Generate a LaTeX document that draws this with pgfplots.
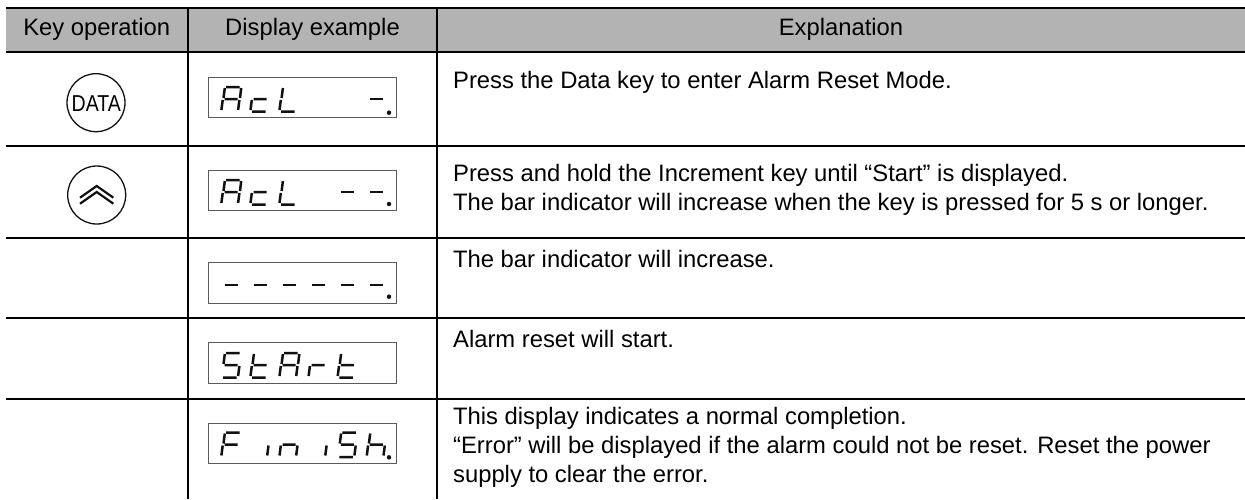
\documentclass[border=0pt]{standalone}
\usepackage{pgfplots}
\pgfplotsset{compat=1.18}
\usepackage{fontspec}
\setmainfont{Liberation Sans}
\definecolor{hdr}{HTML}{B3B3B3}
\definecolor{boxc}{HTML}{5A5A5A}
\definecolor{ink}{HTML}{111111}
\newcommand\T{\fontsize{23.8}{29}\selectfont}
\pgfplotsset{
  seg/.style={no markers,ink,line width=2.5pt,line cap=butt,sharp plot},
  rule/.style={no markers,black,line width=2pt,sharp plot,forget plot},
  dbox/.style={no markers,boxc,line width=1pt,sharp plot}
}
\newcommand\Gl[3]{\addplot[seg,xshift=#1pt,yshift=-#2pt] coordinates {#3};}
\newcommand\GA[2]{\Gl{#1}{#2}{(-5,-12)(8.5,-12)(nan,nan)(10.2,-11)(9,-1)(nan,nan)(8.4,1)(7.1,11)(nan,nan)(-8.3,1)(-9.6,11)(nan,nan)(-6.2,-11)(-7.5,-1)(nan,nan)(-6.5,0)(6.5,0)}}
\newcommand\Gc[2]{\Gl{#1}{#2}{(-6.5,0)(6.5,0)(nan,nan)(-8.3,1)(-9.6,11)(nan,nan)(-8,12.5)(5.5,12.5)}}
\newcommand\GL[2]{\Gl{#1}{#2}{(-6.2,-11)(-7.5,-1)(nan,nan)(-8.3,1)(-9.6,11)(nan,nan)(-8,12.5)(5.5,12.5)}}
\newcommand\GD[2]{\Gl{#1}{#2}{(-6.5,0)(6.5,0)}}
\newcommand\GS[2]{\Gl{#1}{#2}{(-5,-12)(8.5,-12)(nan,nan)(-6.2,-11)(-7.5,-1)(nan,nan)(-6.5,0)(6.5,0)(nan,nan)(8.4,1)(7.1,11)(nan,nan)(-8,12.5)(5.5,12.5)}}
\newcommand\Gt[2]{\Gl{#1}{#2}{(-6.2,-11)(-7.5,-1)(nan,nan)(-8.3,1)(-9.6,11)(nan,nan)(-6.5,0)(6.5,0)(nan,nan)(-8,12.5)(5.5,12.5)}}
\newcommand\Gr[2]{\Gl{#1}{#2}{(-8.3,1)(-9.6,11)(nan,nan)(-6.5,0)(6.5,0)}}
\newcommand\GF[2]{\Gl{#1}{#2}{(-5,-12)(8.5,-12)(nan,nan)(-6.2,-11)(-7.5,-1)(nan,nan)(-8.3,1)(-9.6,11)(nan,nan)(-6.5,0)(6.5,0)}}
\newcommand\Gi[2]{\Gl{#1}{#2}{(8.4,1)(7.1,11)}}
\newcommand\Gn[2]{\Gl{#1}{#2}{(-8.3,1)(-9.6,11)(nan,nan)(-6.5,0)(6.5,0)(nan,nan)(8.4,1)(7.1,11)}}
\newcommand\Gh[2]{\Gl{#1}{#2}{(-6.2,-11)(-7.5,-1)(nan,nan)(-8.3,1)(-9.6,11)(nan,nan)(-6.5,0)(6.5,0)(nan,nan)(8.4,1)(7.1,11)}}
\begin{document}
\begin{tikzpicture}
\useasboundingbox (0,0) rectangle (1245pt,499pt);
\begin{axis}[
  at={(0,0)},anchor=south west,
  width=1245pt,height=499pt,scale only axis,
  xmin=0,xmax=1245,ymin=0,ymax=499,y dir=reverse,
  axis lines=none,clip=false,unbounded coords=jump,
  every node/.append style={inner sep=0pt,text=ink}
]
% header band
\addplot[fill=hdr,draw=none,no markers,forget plot] coordinates {(6,8)(1245,8)(1245,52)(6,52)} -- cycle;
% rules
\addplot[rule] coordinates {(6,8)(1245,8)};
\addplot[rule] coordinates {(6,52)(1245,52)};
\addplot[rule] coordinates {(6,145.7)(1245,145.7)};
\addplot[rule] coordinates {(6,237.7)(1245,237.7)};
\addplot[rule] coordinates {(6,317.7)(1245,317.7)};
\addplot[rule] coordinates {(6,399)(1245,399)};
\addplot[rule] coordinates {(188,8)(188,499)};
\addplot[rule] coordinates {(436.6,8)(436.6,499)};
% display boxes
\addplot[dbox] coordinates {(208.3,77.3)(396.9,77.3)(396.9,117.6)(208.3,117.6)(208.3,77.3)};
\addplot[dbox] coordinates {(208.3,170)(396.9,170)(396.9,210.3)(208.3,210.3)(208.3,170)};
\addplot[dbox] coordinates {(208.3,262.7)(396.9,262.7)(396.9,303)(208.3,303)(208.3,262.7)};
\addplot[dbox] coordinates {(208.3,342.7)(396.9,342.7)(396.9,383)(208.3,383)(208.3,342.7)};
\addplot[dbox] coordinates {(208.3,423)(396.9,423)(396.9,463.6)(208.3,463.6)(208.3,423)};
% digits
\GA{231}{99}\Gc{260.1}{99}\GL{289.1}{99}\GD{376.4}{99}
\GA{231}{192}\Gc{260.1}{192}\GL{289.1}{192}\GD{347.3}{192}\GD{376.4}{192}
\GD{231}{285}\GD{260.1}{285}\GD{289.1}{285}\GD{318.2}{285}\GD{347.3}{285}\GD{376.4}{285}
\GS{231}{365}\Gt{260.1}{365}\GA{289.1}{365}\Gr{318.2}{365}\Gt{347.3}{365}
\GF{231}{444.5}\Gi{260.1}{444.5}\Gn{289.1}{444.5}\Gi{318.2}{444.5}\GS{347.3}{444.5}\Gh{376.4}{444.5}
% decimal points
\addplot[only marks,mark=*,mark size=2pt,ink] coordinates {(389,112.7)(389,204)(389,296.7)(389,457.3)};
% keys
\addplot[only marks,mark=o,mark size=29pt,mark options={ink,line width=1.3pt,fill=none}] coordinates {(96,102.7)(96.7,195)};
\addplot[no markers,ink,line width=2.2pt,sharp plot,line join=miter] coordinates {(80,197.7)(96.7,186)(113.4,197.7)(nan,nan)(80,203.7)(96.7,192)(113.4,203.7)};
% text
\node[anchor=base] at (axis cs:96.7,35) {\T Key operation};
\node[anchor=base] at (axis cs:312.5,35) {\T Display example};
\node[anchor=base] at (axis cs:841,35) {\T Explanation};
\node[anchor=base] at (axis cs:96.3,111.7) {\scalebox{0.85}[1]{\fontsize{23}{24}\selectfont DATA}};
\node[anchor=base west] at (axis cs:449.6,88) {\T Press the Data key to enter Alarm Reset Mode.};
\node[anchor=base west] at (axis cs:449.6,181.7) {\T Press and hold the Increment key until “Start” is displayed.};
\node[anchor=base west] at (axis cs:449.6,210.7) {\T The bar indicator will increase when the key is pressed for 5 s or longer.};
\node[anchor=base west] at (axis cs:449.6,267) {\T The bar indicator will increase.};
\node[anchor=base west] at (axis cs:449.6,347) {\T Alarm reset will start.};
\node[anchor=base west] at (axis cs:449.6,424) {\T This display indicates a normal completion.};
\node[anchor=base west] at (axis cs:449.6,453) {\T “Error” will be displayed if the alarm could not be reset. Reset the power};
\node[anchor=base west] at (axis cs:449.6,482.5) {\T supply to clear the error.};
\end{axis}
\end{tikzpicture}
\end{document}
